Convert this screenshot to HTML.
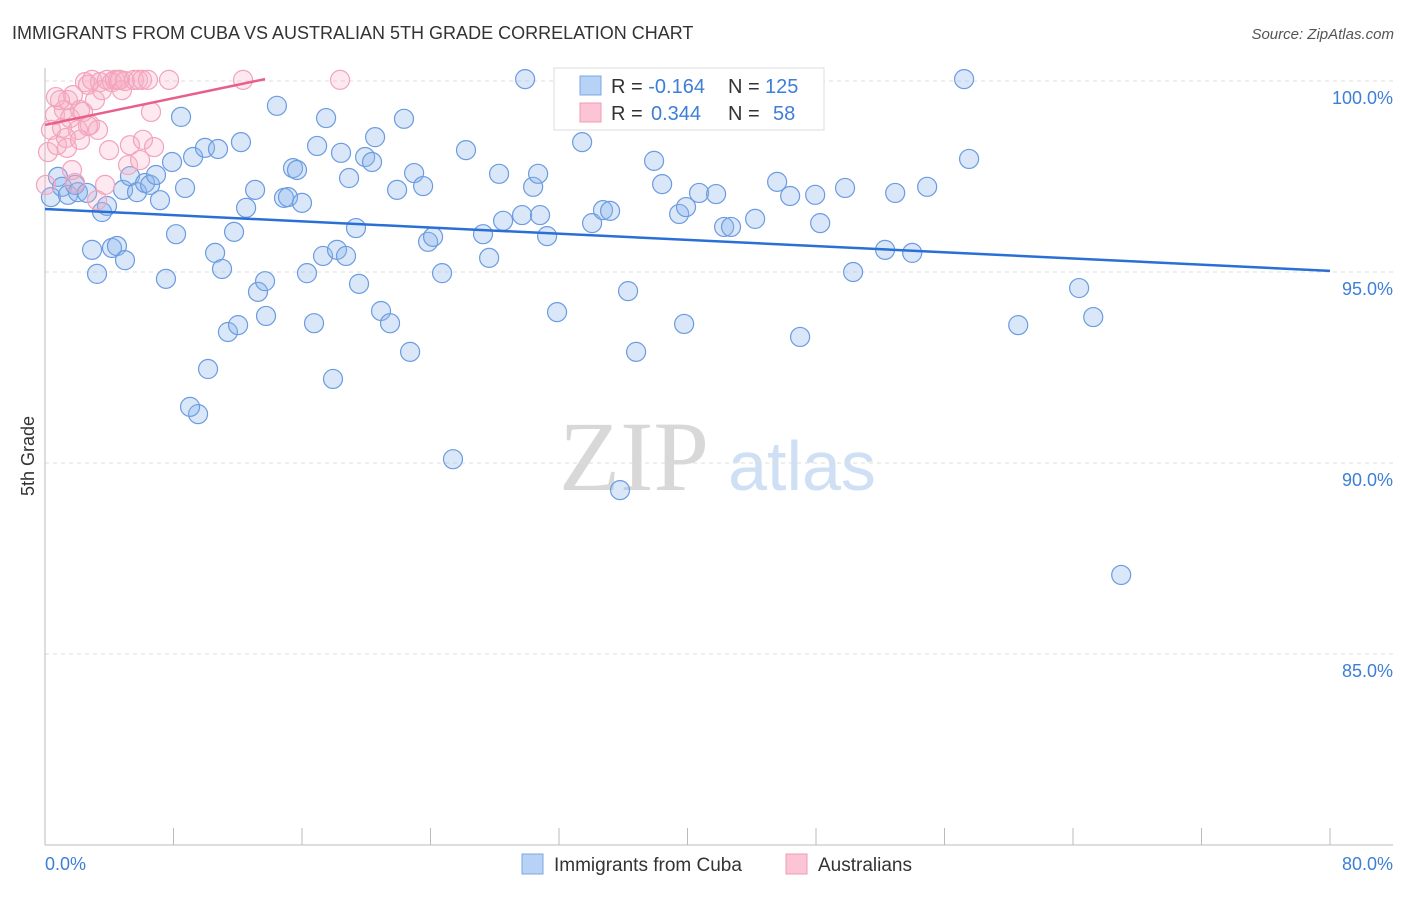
<!DOCTYPE html>
<html><head><meta charset="utf-8"><style>
body{margin:0;background:#fff;font-family:"Liberation Sans",sans-serif}
</style></head><body>
<svg id="chart" width="1406" height="892" font-family="Liberation Sans, sans-serif">
<text x="12" y="39" font-size="18" fill="#333">IMMIGRANTS FROM CUBA VS AUSTRALIAN 5TH GRADE CORRELATION CHART</text>
<text x="1394" y="39" font-size="15" fill="#555" font-style="italic" text-anchor="end">Source: ZipAtlas.com</text>
<text x="634" y="490" font-size="100" fill="#d8d8d8" style="font-family:'Liberation Serif',serif" text-anchor="middle">ZIP</text>
<text x="802" y="490" font-size="70" fill="#cfe0f5" text-anchor="middle">atlas</text>
<text transform="translate(34,456) rotate(-90)" font-size="18" fill="#333" text-anchor="middle">5th Grade</text>
<g id="grid"></g><g id="axes"></g><g id="marks"></g>
<g>
<rect x="554" y="68" width="270" height="62" fill="#fff" stroke="#ddd"/>
<rect x="580" y="76" width="21" height="19" fill="#b8d2f5" stroke="#7aa7e6"/>
<rect x="580" y="103" width="21" height="19" fill="#fbc5d5" stroke="#f29ab7"/>
<text x="611" y="93" font-size="20" fill="#333">R = <tspan fill="#3d7fd6">-0.164</tspan><tspan x="728">N = </tspan><tspan fill="#3d7fd6" x="765">125</tspan></text>
<text x="611" y="120" font-size="20" fill="#333">R = <tspan fill="#3d7fd6" x="651">0.344</tspan><tspan x="728">N = </tspan><tspan fill="#3d7fd6" x="773">58</tspan></text>
</g>
<g>
<rect x="522" y="854" width="21" height="20" fill="#b8d2f5" stroke="#7aa7e6"/>
<text x="554" y="871" font-size="19" fill="#333">Immigrants from Cuba</text>
<rect x="786" y="854" width="21" height="20" fill="#fbc5d5" stroke="#f29ab7"/>
<text x="818" y="871" font-size="19" fill="#333">Australians</text>
</g>
</svg>
<script>
const yTicks=[100,95,90,85];
const yTickLabels=["100.0%","95.0%","90.0%","85.0%"];
const xTickLabels=["0.0%","80.0%"];
const blueX=[0.37,0.81,1.06,1.43,1.87,2.05,2.62,2.93,3.24,3.55,3.86,4.17,4.48,4.98,4.86,5.29,5.73,6.23,6.54,6.91,7.16,7.53,7.91,8.16,8.47,8.72,9.22,9.53,9.03,9.96,10.15,10.59,10.77,11.02,11.39,11.77,12.02,12.20,12.52,13.08,13.26,13.70,13.76,14.44,14.88,15.13,15.44,15.69,16.00,16.31,16.75,16.94,17.31,17.50,17.93,18.18,18.43,18.74,18.93,19.36,19.55,19.93,20.36,20.55,20.92,21.48,21.92,22.35,22.73,22.98,23.54,23.85,24.16,24.72,25.40,26.21,27.27,27.65,28.27,28.52,29.70,29.89,30.39,30.70,30.82,31.26,31.88,33.44,34.06,34.74,35.18,35.80,36.30,36.80,37.92,38.42,39.48,39.79,39.91,40.72,41.78,42.28,42.71,44.21,45.58,46.39,47.01,47.95,48.26,49.81,50.31,52.30,52.93,53.99,54.92,57.22,57.53,60.59,64.38,65.26,67.00];
const blueY=[96.96,97.49,97.23,97.02,97.28,97.09,97.07,95.58,94.95,96.57,96.73,95.63,95.68,95.31,97.15,97.51,97.09,97.33,97.28,97.54,96.88,94.82,97.88,95.99,99.06,97.20,98.01,91.28,91.47,98.25,92.46,95.50,98.22,95.08,93.43,96.05,93.61,98.40,96.68,97.15,94.48,94.76,93.85,99.35,96.94,96.96,97.72,97.67,96.81,94.97,93.66,98.30,95.42,99.03,92.20,95.58,98.12,95.42,97.46,96.15,94.69,98.01,97.88,98.53,93.98,93.66,97.15,99.01,92.91,97.59,97.25,95.79,95.92,94.97,90.10,98.19,95.99,95.37,97.57,96.34,96.49,100.05,97.23,97.57,96.49,95.94,93.95,98.40,96.28,96.62,96.60,89.29,94.50,92.91,97.91,97.30,96.52,93.64,96.70,97.07,97.04,96.18,96.18,96.39,97.36,96.99,93.30,97.02,96.28,97.20,95.00,95.58,97.07,95.50,97.23,100.05,97.96,93.61,94.58,93.82,87.07];
const pinkX=[0.19,0.37,0.62,0.75,1.06,1.18,1.37,1.43,1.56,1.74,1.87,2.05,2.18,2.37,2.49,2.68,2.80,2.93,3.11,3.24,3.30,3.42,3.55,3.74,3.86,3.99,4.17,4.36,4.55,4.67,4.79,4.98,5.17,5.29,5.54,5.79,6.04,6.10,6.41,6.60,6.79,7.72,12.33,18.37,5.92,0.93,0.06,1.31,2.18,1.68,2.68,0.68];
const pinkY=[98.14,98.72,99.11,98.32,98.77,99.24,98.25,99.50,99.03,99.63,97.33,98.72,99.24,99.19,99.97,99.90,98.85,100.03,99.50,96.88,98.72,99.97,99.76,97.28,100.03,98.19,99.97,100.03,100.03,100.03,99.76,100.0,97.80,98.32,100.03,100.03,100.03,98.46,100.03,99.19,98.27,100.03,100.03,100.03,97.93,99.50,97.28,98.51,98.46,97.67,98.82,99.58];
const blueTrend=[0,96.65,80,95.03];
const pinkTrend=[0,98.85,13.7,100.05];
const NS="http://www.w3.org/2000/svg";
const X0=45,X1=1330,XMIN=0,XMAX=80;
function xs(v){return X0+(v-XMIN)/(XMAX-XMIN)*(X1-X0);}
function ys(v){return 81+(100-v)*38.2;}
function mk(p,tag,a){const e=document.createElementNS(NS,tag);for(const k in a)e.setAttribute(k,a[k]);p.appendChild(e);return e;}
const grid=document.getElementById('grid'),axes=document.getElementById('axes'),marks=document.getElementById('marks');
yTicks.forEach((t,i)=>{
 const l=mk(grid,'line',{x1:45,x2:1393,y1:ys(t),y2:ys(t),stroke:'#ddd','stroke-dasharray':'4,4'});
 
 
 const tx=mk(axes,'text',{x:1393,y:ys(t)+23,'font-size':18,fill:'#3d7fd6','text-anchor':'end'});
 tx.textContent=yTickLabels[i];
 
 
});
const ax=mk(axes,'line',{x1:45,x2:45,y1:68,y2:845,stroke:'#bbb'});


const bx=mk(axes,'line',{x1:45,x2:1393,y1:845,y2:845,stroke:'#bbb'});


for(let i=0;i<=10;i++){
 const t=mk(axes,'line',{x1:xs(i*8),x2:xs(i*8),y1:828,y2:845,stroke:'#bbb'});
 
 
}
[[0,'start',45],[1,'end',1393]].forEach(([i,a,x])=>{
 const t=mk(axes,'text',{x:x,y:870,'font-size':18,fill:'#3d7fd6','text-anchor':a});
 t.textContent=xTickLabels[i];
 
 
});
blueX.forEach((v,i)=>{
 const c=mk(marks,'circle',{cx:xs(v),cy:ys(blueY[i]),r:9.5,fill:'rgba(140,182,238,0.33)',stroke:'#6b9be0','stroke-width':1.2});
 
 
});
pinkX.forEach((v,i)=>{
 const c=mk(marks,'circle',{cx:xs(v),cy:ys(pinkY[i]),r:9.5,fill:'rgba(248,175,198,0.28)',stroke:'#f2a3bd','stroke-width':1.2});
 
 
});
const bl=mk(marks,'line',{x1:xs(blueTrend[0]),y1:ys(blueTrend[1]),x2:xs(blueTrend[2]),y2:ys(blueTrend[3]),stroke:'#2a6fd6','stroke-width':2.5});


const pl=mk(marks,'line',{x1:xs(pinkTrend[0]),y1:ys(pinkTrend[1]),x2:xs(pinkTrend[2]),y2:ys(pinkTrend[3]),stroke:'#e8608a','stroke-width':2.5});


</script>
</body></html>
